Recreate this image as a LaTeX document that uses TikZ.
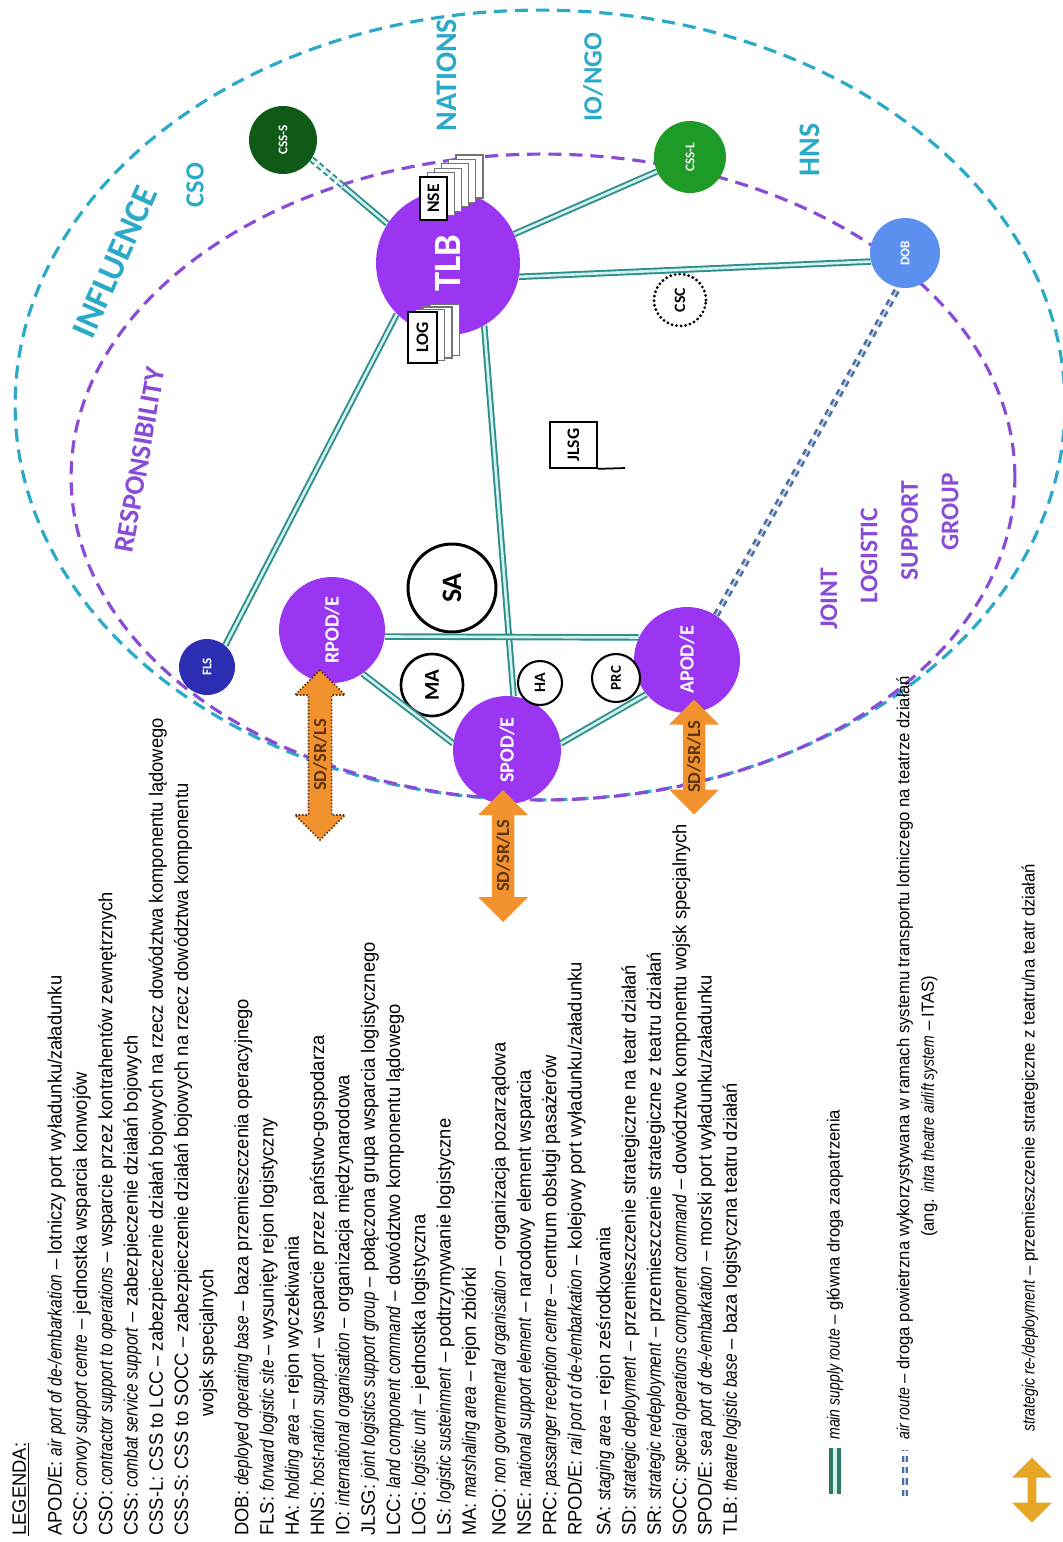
\documentclass[tikz,border=0pt]{standalone}
\usepackage{fontspec}
\setmainfont{Liberation Sans}
\newfontfamily\legendfont{Liberation Sans}[FakeStretch=0.95, ItalicFeatures={FakeStretch=0.8}]
\newfontfamily\labelfont{Carlito}
\usepackage{graphicx}
\usetikzlibrary{calc,shapes.arrows}
\definecolor{podviolet}{HTML}{9A35F2}
\definecolor{respviolet}{HTML}{8A4BD6}
\definecolor{inflcyan}{HTML}{2AAAC8}
\definecolor{routeteal}{HTML}{2F8F8A}
\definecolor{routefill}{HTML}{D2F2EF}
\definecolor{msrgreen}{HTML}{2E7A64}
\definecolor{airblue}{HTML}{4C6E9E}
\definecolor{airfill}{HTML}{BFD0E8}
\definecolor{sdorange}{HTML}{F2922E}
\definecolor{sdbrown}{HTML}{5E3410}
\definecolor{keygold}{HTML}{E6A524}
\definecolor{cssgreen}{HTML}{1E9A26}
\definecolor{cssdark}{HTML}{0E5A16}
\definecolor{dobblue}{HTML}{5B8FF0}
\definecolor{flsblue}{HTML}{2B2DB2}

\newcommand{\vlabel}[1]{\rotatebox{90}{#1}}
\newcommand{\setsize}[1]{\fontsize{#1}{#1}\selectfont}

\begin{document}
\begin{tikzpicture}[
    x=0.02cm, y=-0.02cm,
    zone/.style={line width=1.8pt, dash pattern=on 7.5pt off 4.5pt},
    hub/.style={circle, fill=podviolet, text=white, inner sep=0pt, font=\labelfont\bfseries},
    area/.style={circle, draw=black, fill=white, line width=1.5pt, inner sep=0pt, font=\labelfont\bfseries},
    unit/.style={circle, text=white, inner sep=0pt, font=\labelfont\bfseries\setsize{7.5}},
    tag/.style={rectangle, draw=black, fill=white, line width=1pt, inner sep=0pt, font=\labelfont\bfseries\setsize{10}},
    sheet/.style={rectangle, draw=black!55, fill=white, line width=0.6pt, inner sep=0pt},
    route/.style={draw=routeteal, double=routefill, double distance=1.5pt, line width=1.1pt},
    airroute/.style={draw=airblue, double=airfill, double distance=1pt, line width=1.4pt, dash pattern=on 3.5pt off 3pt},
    sdarrow/.style={double arrow, rotate=90, fill=sdorange, minimum width=1cm, double arrow head extend=0.22cm, inner sep=1pt, text=sdbrown, font=\labelfont\bfseries\setsize{10.5}},
    zonelabel/.style={inner sep=0pt, font=\labelfont\bfseries},
    keytext/.style={rotate=90, anchor=west, align=left, inner sep=0pt, font=\legendfont\fontsize{10}{14}\selectfont}
  ]
  \useasboundingbox (0,0) rectangle (1062,1542);

  % areas of influence and responsibility
  \draw[zone, draw=inflcyan] (540,405) ellipse [x radius=10.5cm, y radius=7.9cm];
  \draw[zone, draw=respviolet] (543,477) ellipse [x radius=9.44cm, y radius=6.46cm];

  \node[zonelabel, rotate=66, text=inflcyan] (influence) at (115,262) {\setsize{20}INFLUENCE};
  \node[zonelabel, rotate=80, text=respviolet] (responsibility) at (140,460) {\setsize{16}RESPONSIBILITY};
  \node[zonelabel, rotate=90, text=inflcyan] (cso) at (195,185) {\setsize{15}CSO};
  \node[zonelabel, rotate=90, text=inflcyan] (nations) at (447,75) {\setsize{17}NATIONS};
  \node[zonelabel, rotate=90, text=inflcyan] (iongo) at (593,77) {\setsize{15}IO/NGO};
  \node[zonelabel, rotate=90, text=inflcyan] (hns) at (810,150) {\setsize{17}HNS};
  \node[rotate=90, anchor=north west, align=left, inner sep=0pt, text=respviolet,
        font=\labelfont\bfseries\fontsize{14.5}{23}\selectfont] (jlsgname) at (820,630)
    {JOINT\\\hspace*{15pt}LOGISTIC\\\hspace*{28pt}SUPPORT\\\hspace*{45pt}GROUP};

  % logistic nodes
  \node[hub, minimum size=2.88cm] (tlb) at (448,263) {\vlabel{\setsize{22}TLB}};
  \node[hub, minimum size=2.12cm] (rpod) at (332,630) {\vlabel{\setsize{11.5}RPOD/E}};
  \node[hub, minimum size=2.16cm] (spod) at (507,750) {\vlabel{\setsize{11.5}SPOD/E}};
  \node[hub, minimum size=2.12cm] (apod) at (687,660) {\vlabel{\setsize{11.5}APOD/E}};

  \node[area, minimum size=1.76cm, line width=1.7pt] (sa) at (452,588) {\vlabel{\setsize{16}SA}};
  \node[area, minimum size=1.24cm] (ma) at (432,685) {\vlabel{\setsize{12}MA}};
  \node[area, minimum size=0.88cm, line width=1.2pt] (ha) at (540,683) {\vlabel{\setsize{9}HA}};
  \node[area, minimum size=0.96cm, line width=1.2pt] (prc) at (616,678) {\vlabel{\setsize{8.5}PRC}};
  \node[area, minimum size=1.04cm, draw=black, line width=1.8pt, dash pattern=on 0pt off 2.6pt, line cap=round] (csc) at (680,300) {\vlabel{\setsize{9}CSC}};

  \node[unit, fill=cssdark, minimum size=1.36cm] (csss) at (283,140) {\vlabel{CSS-S}};
  \node[unit, fill=cssgreen, minimum size=1.44cm] (cssl) at (690,157) {\vlabel{CSS-L}};
  \node[unit, fill=dobblue, minimum size=1.4cm] (dob) at (905,253) {\vlabel{DOB}};
  \node[unit, fill=flsblue, minimum size=1.12cm] (fls) at (207,667) {\vlabel{FLS}};

  % stacked elements on the TLB
  \foreach \k in {5,4,3,2,1}
    \node[sheet, minimum width=0.54cm, minimum height=0.86cm] at (433.5+7.2*\k,198.5-4.4*\k) {};
  \node[tag, minimum width=0.54cm, minimum height=0.86cm] (nse) at (433.5,198.5) {\vlabel{NSE}};
  \foreach \k in {3,2,1}
    \node[sheet, minimum width=0.58cm, minimum height=1.02cm] at (422.5+7.5*\k,337.5-2.5*\k) {};
  \node[tag, minimum width=0.58cm, minimum height=1.02cm] (log) at (422.5,337.5) {\vlabel{LOG}};

  % JLSG headquarters
  \node[tag, minimum width=0.94cm, minimum height=0.92cm] (jlsg) at (573.5,445) {\vlabel{JLSG}};
  \coordinate (staff) at (625,468);
  \draw[line width=1pt] (jlsg.south east) -- (staff);

  % main supply routes
  \draw[route] (tlb.-11) -- (dob.194);
  \draw[route] (tlb) -- (cssl);
  \draw[route] (tlb.-60) -- (spod.83);
  \draw[route] (tlb.225) -- (fls.50);
  \draw[route] (rpod.-7) -- (apod.155);
  \draw[route] (rpod.-55) -- (spod.173);
  \draw[route] (spod.7) -- (apod.220);
  \coordinate (csscut) at ($(csss.-34)!0.42!(tlb.147)$);
  \draw[route, dash pattern=on 3pt off 2pt] (csss.-34) -- (csscut);
  \draw[route] (csscut) -- (tlb.147);

  % air route
  \draw[airroute] (apod.57) -- (dob.259);

  % strategic deployment arrows
  \node[sdarrow, minimum height=3.4cm, draw=sdbrown, densely dotted, line width=0.9pt] (rpodsd) at (320,755) {SD/SR/LS};
  \node[sdarrow, minimum height=2.64cm] (spodsd) at (503,856) {SD/SR/LS};
  \node[sdarrow, minimum height=2.3cm] (apodsd) at (694,757) {SD/SR/LS};

  % legend
  \node[rotate=90, anchor=north west, align=left, inner sep=0pt,
        font=\legendfont\fontsize{11}{14.4}\selectfont] (legend) at (12,1536) {%
    \underline{LEGENDA:}\\[6pt]
    APOD/E: \textit{air port of de-/embarkation} – lotniczy port wyładunku/załadunku\\
    CSC: \textit{convoy support centre} – jednostka wsparcia konwojów\\
    CSO: \textit{contractor support to operations} – wsparcie przez kontrahentów zewnętrznych\\
    CSS: \textit{combat service support} – zabezpieczenie działań bojowych\\
    CSS-L: CSS to LCC – zabezpieczenie działań bojowych na rzecz dowództwa komponentu lądowego\\
    CSS-S: CSS to SOCC – zabezpieczenie działań bojowych na rzecz dowództwa komponentu\\
    \hspace*{68pt}wojsk specjalnych\\[5.4pt]
    DOB: \textit{deployed operating base} – baza przemieszczenia operacyjnego\\
    FLS: \textit{forward logistic site} – wysunięty rejon logistyczny\\
    HA: \textit{holding area} – rejon wyczekiwania\\
    HNS: \textit{host-nation support} – wsparcie przez państwo-gospodarza\\
    IO: \textit{international organisation} – organizacja międzynarodowa\\
    JLSG: \textit{joint logistics support group} – połączona grupa wsparcia logistycznego\\
    LCC: \textit{land component command} – dowództwo komponentu lądowego\\
    LOG: \textit{logistic unit} – jednostka logistyczna\\
    LS: \textit{logistic susteinment} – podtrzymywanie logistyczne\\
    MA: \textit{marshaling area} – rejon zbiórki\\[2.5pt]
    NGO: \textit{non governmental organisation} – organizacja pozarządowa\\
    NSE: \textit{national support element} – narodowy element wsparcia\\
    PRC: \textit{passanger reception centre} – centrum obsługi pasażerów\\
    RPOD/E: \textit{rail port of de-/embarkation} – kolejowy port wyładunku/załadunku\\[2pt]
    SA: \textit{staging area} – rejon ześrodkowania\\
    SD: \textit{strategic deployment} – przemieszczenie strategiczne na teatr działań\\
    SR: \textit{strategic redeployment} – przemieszczenie strategiczne z teatru działań\\
    SOCC: \textit{special operations component command} – dowództwo komponentu wojsk specjalnych\\
    SPOD/E: \textit{sea port of de-/embarkation} – morski port wyładunku/załadunku\\
    TLB: \textit{theatre logistic base} – baza logistyczna teatru działań};

  % legend keys
  \coordinate (msrfoot) at (835,1494);
  \coordinate (msrtop) at (835,1448);
  \draw[route, draw=msrgreen, line width=2.6pt, double distance=2pt] (msrfoot) -- (msrtop);
  \node[keytext] (msrkey) at (835,1440) {\textit{main supply route} – główna droga zaopatrzenia};
  \coordinate (airfoot) at (905,1496);
  \coordinate (airtop) at (905,1450);
  \draw[airroute] (airfoot) -- (airtop);
  \node[keytext] (airkey) at (917,1440) {\textit{air route} – droga powietrzna wykorzystywana w ramach systemu transportu lotniczego na teatrze działań\\
    \hphantom{\textit{air route} – droga powietrzna }(ang. \textit{intra theatre airlift system} – ITAS)};
  \node[sdarrow, fill=keygold, minimum height=1.3cm, minimum width=0.8cm, double arrow head extend=0.15cm] (stratsym) at (1032,1490) {};
  \node[keytext] (stratkey) at (1030,1432) {\textit{strategic re-/deployment} – przemieszczenie strategiczne z teatru/na teatr działań};
\end{tikzpicture}
\end{document}
